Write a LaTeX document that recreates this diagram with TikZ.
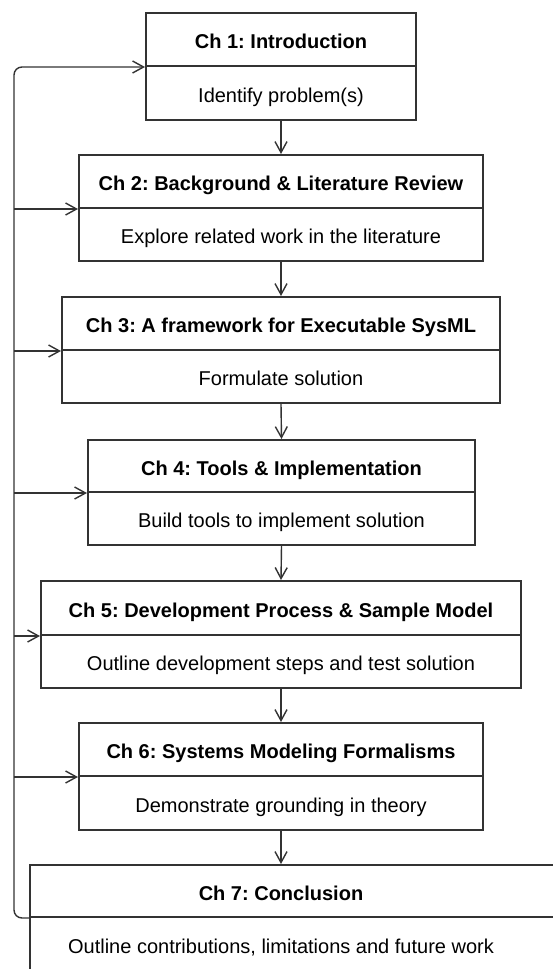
\documentclass[tikz,border=0pt]{standalone}
\usepackage{fontspec}
\setmainfont{Liberation Sans}
\usetikzlibrary{arrows.meta}
\definecolor{ink}{HTML}{333333}
\frenchspacing
\tikzset{
  txt/.style={inner sep=0pt, text height=18pt, text depth=0pt, font=\fontsize{20}{24}\selectfont, text=black},
  sec/.style={txt, draw=ink, line width=2pt, rectangle},
  ttl/.style={sec, font=\fontsize{20}{24}\selectfont\bfseries},
  arr/.style={draw=ink, line width=1.4pt, -{Straight Barb[length=11pt,width=12pt,line width=1.4pt]}},
  loopln/.style={draw=ink, line width=1.5pt, rounded corners=8pt}
}
\begin{document}
\begin{tikzpicture}[x=1pt,y=-1pt]
\frenchspacing
\useasboundingbox (0,0) rectangle (553,969);
\clip (0,0) rectangle (553,969);
% Ch 1
\node[ttl, minimum width=270pt, minimum height=53pt] (t1) at (281,39.5) {Ch 1: Introduction};
\node[sec, minimum width=270pt, minimum height=54pt] (b1) at (281,93) {Identify problem(s)};
% Ch 2
\node[ttl, minimum width=404pt, minimum height=53pt] (t2) at (281,181.5) {Ch 2: Background \& Literature Review};
\node[sec, minimum width=404pt, minimum height=53pt] (b2) at (281,234.5) {Explore related work in the literature};
% Ch 3
\node[ttl, minimum width=438pt, minimum height=53pt] (t3) at (281,323.5) {Ch 3: A framework for Executable SysML};
\node[sec, minimum width=438pt, minimum height=53pt] (b3) at (281,376.5) {Formulate solution};
% Ch 4
\node[ttl, minimum width=387pt, minimum height=52pt] (t4) at (281.5,466) {Ch 4: Tools \& Implementation};
\node[sec, minimum width=387pt, minimum height=53pt] (b4) at (281.5,518.5) {Build tools to implement solution};
% Ch 5
\node[ttl, minimum width=480pt, minimum height=54pt] (t5) at (281,608) {Ch 5: Development Process \& Sample Model};
\node[sec, minimum width=480pt, minimum height=53pt] (b5) at (281,661.5) {Outline development steps and test solution};
% Ch 6
\node[ttl, minimum width=404pt, minimum height=53pt] (t6) at (281,749.5) {Ch 6: Systems Modeling Formalisms};
\node[sec, minimum width=404pt, minimum height=54pt] (b6) at (281,803) {Demonstrate grounding in theory};
% Ch 7 (cropped at right and bottom)
\node[ttl, minimum width=560pt, minimum height=52pt] (t7box) at (310,891) {};
\node[sec, minimum width=560pt, minimum height=60pt] (b7box) at (310,947) {};
\node[txt, font=\fontsize{20}{24}\selectfont\bfseries] (t7) at (281,891) {Ch 7: Conclusion};
\node[txt] (b7) at (281,944) {Outline contributions, limitations and future work};
% vertical arrows
\draw[arr] (b1.south) -- (t2.north);
\draw[arr] (b2.south) -- (t3.north);
\draw[arr] (b3.south) -- (t4.north);
\draw[arr] (b4.south) -- (t5.north);
\draw[arr] (b5.south) -- (t6.north);
\draw[arr] (b6.south) -- (t7.north |- t7box.north);
% feedback loop
\coordinate (lx) at (14,0);
\draw[loopln, arr] (t7box.south west) -- (t7box.south west -| lx) -- (t1.south west -| lx) -- (t1.south west);
\draw[arr] (t2.south west -| lx) -- (t2.south west);
\draw[arr] (t3.south west -| lx) -- (t3.south west);
\draw[arr] (t4.south west -| lx) -- (t4.south west);
\draw[arr] (t5.south west -| lx) -- (t5.south west);
\draw[arr] (t6.south west -| lx) -- (t6.south west);
\end{tikzpicture}
\end{document}
